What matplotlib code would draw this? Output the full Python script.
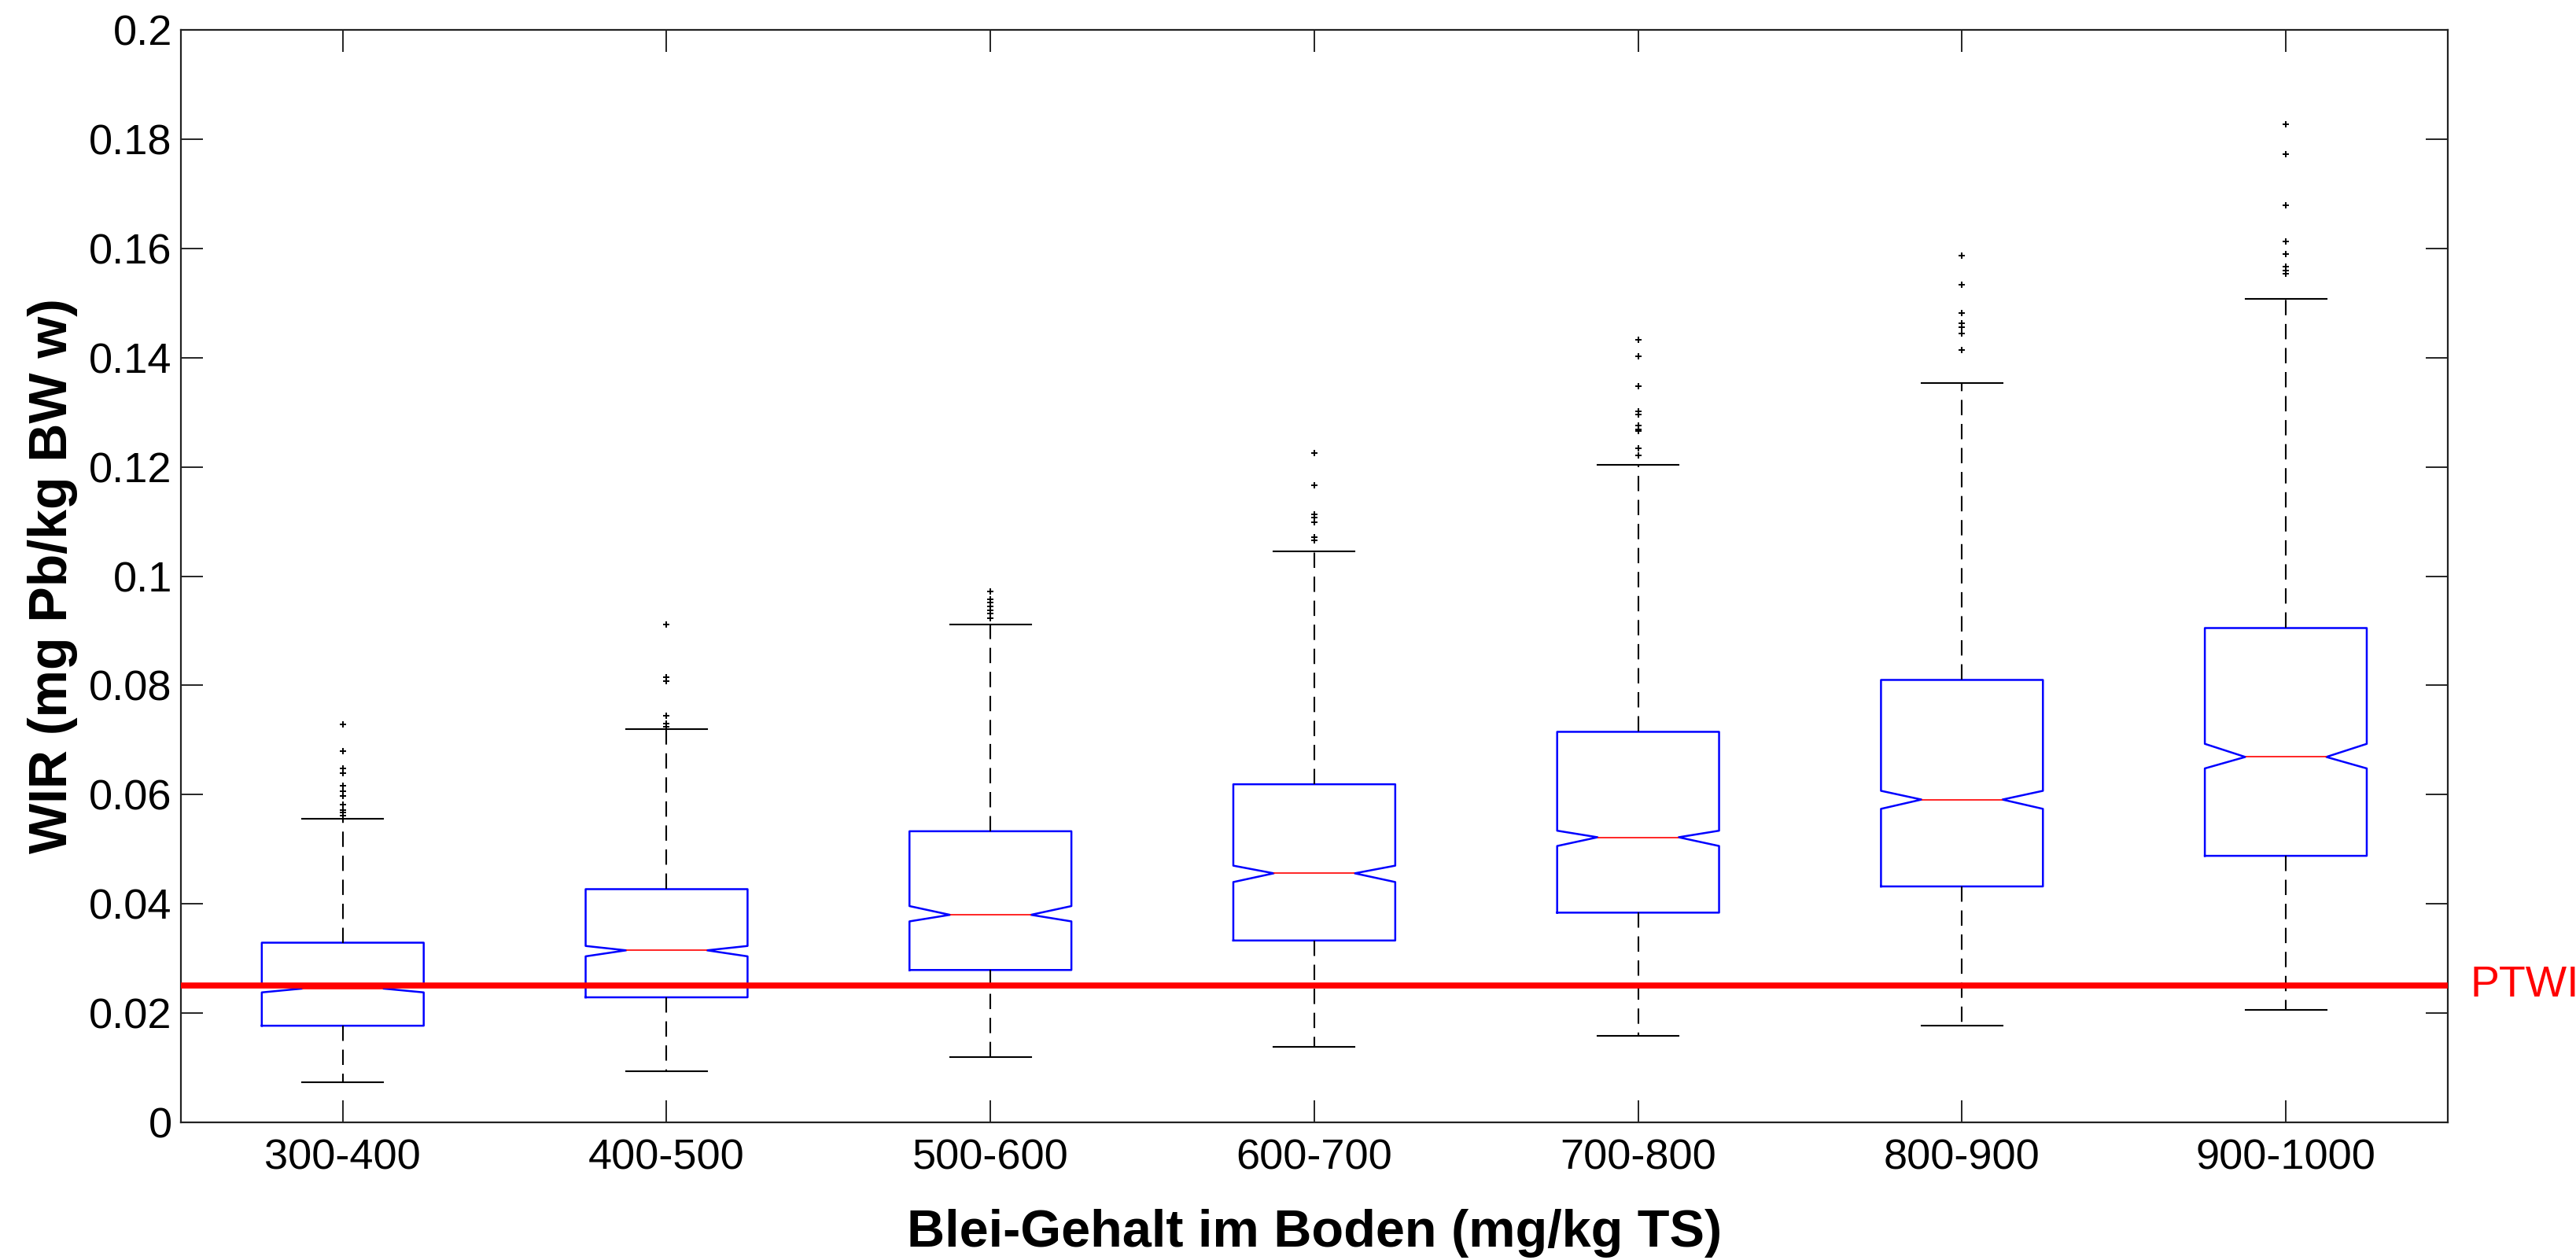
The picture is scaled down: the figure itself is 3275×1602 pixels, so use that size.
import matplotlib
matplotlib.use("Agg")
import matplotlib.pyplot as plt
from matplotlib.ticker import FuncFormatter

# ---- data ----
categories = ['300-400', '400-500', '500-600', '600-700', '700-800', '800-900', '900-1000']
q1 = [0.0177, 0.0229, 0.0279, 0.0333, 0.0384, 0.0432, 0.0488]
medians = [0.0245, 0.0315, 0.0380, 0.0456, 0.0522, 0.0591, 0.0669]
q3 = [0.0329, 0.0427, 0.0533, 0.0619, 0.0715, 0.0810, 0.0905]
ci_lo = [0.0238, 0.0304, 0.0368, 0.0440, 0.0506, 0.0574, 0.0648]
ci_hi = [0.0253, 0.0323, 0.0396, 0.0470, 0.0534, 0.0607, 0.0693]
whis_lo = [0.0073, 0.0094, 0.0120, 0.0138, 0.0159, 0.0177, 0.0206]
whis_hi = [0.0556, 0.0720, 0.0911, 0.1046, 0.1204, 0.1354, 0.1507]
outliers_300 = [0.0728, 0.0679, 0.0648, 0.0639, 0.0616, 0.0606, 0.0598, 0.0582, 0.0571, 0.0567, 0.0562]
outliers_400 = [0.0911, 0.0815, 0.0808, 0.0745, 0.0730, 0.0725]
outliers_500 = [0.0972, 0.0958, 0.0952, 0.0945, 0.0937, 0.0931, 0.0923]
outliers_600 = [0.1226, 0.1167, 0.1113, 0.1107, 0.1099, 0.1072, 0.1065]
outliers_700 = [0.1433, 0.1403, 0.1348, 0.1302, 0.1296, 0.1276, 0.1269, 0.1265, 0.1234, 0.1221]
outliers_800 = [0.1587, 0.1533, 0.1481, 0.1463, 0.1456, 0.1444, 0.1414]
outliers_900 = [0.1827, 0.1773, 0.1679, 0.1613, 0.1590, 0.1567, 0.1560, 0.1553]
outliers = [outliers_300, outliers_400, outliers_500, outliers_600,
            outliers_700, outliers_800, outliers_900]
ptwi = 0.025
ptwi_label = 'PTWI'
y_ticks = [0, 0.02, 0.04, 0.06, 0.08, 0.1, 0.12, 0.14, 0.16, 0.18, 0.2]

plt.rcParams['font.family'] = ['Liberation Sans', 'DejaVu Sans']
plt.rcParams['lines.scale_dashes'] = False

fig = plt.figure(figsize=(32.75, 16.02), dpi=100)
ax = fig.add_axes([0.0702, 0.1092, 0.880, 0.8671])

stats = []
for i, name in enumerate(categories):
    stats.append(dict(label=name, q1=q1[i], med=medians[i], q3=q3[i],
                      cilo=ci_lo[i], cihi=ci_hi[i],
                      whislo=whis_lo[i], whishi=whis_hi[i],
                      fliers=outliers[i]))

ax.bxp(stats, positions=range(1, len(categories) + 1), widths=0.5,
       capwidths=0.25, shownotches=True,
       boxprops=dict(color='#0000ff', linewidth=1.8),
       whiskerprops=dict(color='black', linewidth=1.5, linestyle=(0, (14, 8))),
       capprops=dict(color='black', linewidth=1.5),
       medianprops=dict(color='#ff0000', linewidth=1.2),
       flierprops=dict(marker='+', markersize=5.5, markeredgecolor='black',
                       markeredgewidth=1.4, linestyle='none'))

ax.axhline(ptwi, color='#ff0000', linewidth=5.5, zorder=5)
ax.text(1.01, ptwi, ptwi_label, transform=ax.get_yaxis_transform(),
        color='#ff0000', fontsize=40, va='center', ha='left')

ax.set_xlim(0.5, len(categories) + 0.5)
ax.set_ylim(0, 0.2)
ax.set_yticks(y_ticks)
ax.yaxis.set_major_formatter(FuncFormatter(lambda v, p: '%g' % v))
ax.set_xticks(range(1, len(categories) + 1))
ax.set_xticklabels(categories)

ax.tick_params(axis='both', which='major', direction='in', length=20, width=1.2,
               labelsize=39, top=True, right=True)
ax.tick_params(axis='y', pad=8)
ax.tick_params(axis='x', pad=15)
for s in ax.spines.values():
    s.set_linewidth(1.6)
    s.set_color('#222222')

ax.set_ylabel('WIR (mg Pb/kg BW w)', fontsize=49, fontweight='bold', labelpad=10)
ax.set_xlabel('Blei-Gehalt im Boden (mg/kg TS)', fontsize=48, fontweight='bold', labelpad=28)

fig.savefig('out.png', dpi=100, facecolor='white')
